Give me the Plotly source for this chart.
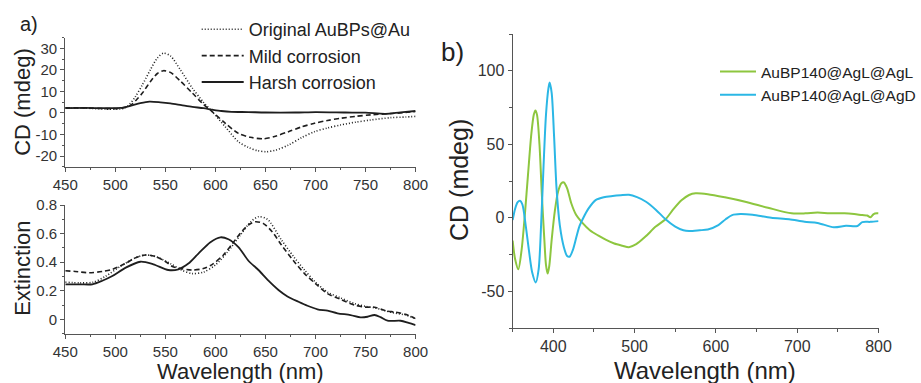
import plotly.graph_objects as go

# ---------------- data: panel a (top) CD ----------------
cd_orig_wl = [450, 470, 490, 505, 512, 520, 527, 535, 542, 548, 555, 565, 577, 588, 597, 610, 623, 633, 642, 651, 660, 673, 686, 699, 712, 725, 740, 755, 775, 790, 800]
cd_orig = [2.3, 2.2, 1.8, 1.8, 3, 7.5, 13, 20, 25.5, 27.7, 26.5, 20, 11.5, 5, 0.5, -6.5, -13.4, -16, -17.5, -18, -17.3, -14.9, -11.5, -8.7, -7, -5.6, -4.3, -3.3, -2.2, -1.9, -1.6]

cd_mild_wl = [450, 470, 490, 505, 515, 521, 527, 535, 542, 548, 555, 565, 577, 588, 597, 610, 623, 635, 648, 660, 673, 686, 699, 712, 725, 740, 755, 775, 790, 800]
cd_mild = [2.4, 2.3, 2.0, 2.2, 3.5, 6, 9.2, 14.5, 18.3, 19.6, 18.8, 14.8, 9.2, 4, 0.5, -4.8, -9.5, -11.3, -12, -10.8, -8.7, -6.5, -4.8, -3.5, -2.5, -1.6, -0.9, -0.3, 0.2, 0.7]

cd_harsh_wl = [450, 470, 490, 505, 515, 525, 534, 545, 555, 566, 577, 588, 597, 606, 616, 633, 650, 680, 700, 730, 750, 770, 785, 800]
cd_harsh = [2.2, 2.3, 2.2, 2.3, 3.3, 4.5, 5.2, 4.9, 4.4, 3.6, 2.8, 2.2, 1.5, 0.9, 0.5, 0.4, 0.2, 0.2, 0.4, 0.2, 0.1, -0.4, 0.3, 0.9]

# ---------------- data: panel a (bottom) extinction ----------------
ext_orig_wl = [450, 465, 478, 490, 505, 520, 530, 540, 555, 566, 577, 588, 600, 612, 625, 635, 643, 652, 666, 678, 689, 700, 712, 725, 739, 750, 759, 770, 778, 790, 800]
ext_orig = [0.26, 0.255, 0.26, 0.3, 0.37, 0.43, 0.45, 0.44, 0.39, 0.345, 0.32, 0.33, 0.38, 0.47, 0.59, 0.68, 0.718, 0.7, 0.555, 0.44, 0.345, 0.26, 0.19, 0.15, 0.11, 0.09, 0.08, 0.06, 0.045, 0.03, 0.005]

ext_mild_wl = [450, 460, 474, 487, 497, 510, 520, 530, 540, 550, 557, 566, 577, 588, 597, 608, 617, 627, 634, 640, 648, 657, 666, 678, 689, 700, 712, 725, 739, 750, 759, 770, 780, 790, 800]
ext_mild = [0.34, 0.335, 0.326, 0.335, 0.35, 0.39, 0.43, 0.45, 0.44, 0.405, 0.37, 0.355, 0.345, 0.355, 0.385, 0.45, 0.53, 0.62, 0.665, 0.683, 0.67, 0.61, 0.52, 0.41, 0.32, 0.25, 0.18, 0.14, 0.1, 0.085, 0.085, 0.06, 0.05, 0.035, 0.005]

ext_harsh_wl = [450, 465, 477, 487, 497, 510, 525, 538, 553, 563, 573, 583, 595, 605, 613, 623, 633, 643, 653, 663, 672, 683, 692, 702, 712, 722, 735, 745, 752, 759, 765, 772, 785, 793, 800]
ext_harsh = [0.245, 0.245, 0.245, 0.27, 0.303, 0.36, 0.403, 0.385, 0.345, 0.35, 0.39, 0.46, 0.54, 0.574, 0.56, 0.505, 0.41, 0.345, 0.27, 0.205, 0.16, 0.123, 0.095, 0.07, 0.06, 0.042, 0.03, 0.014, 0.018, 0.03, 0.015, -0.01, -0.01, -0.025, -0.04]

# ---------------- data: panel b CD ----------------
agl_wl = [350, 353, 357, 361, 365, 369, 373, 376, 378, 380, 383, 386, 389, 391, 393, 395, 398, 402, 406, 410, 413, 417, 422, 428, 435, 445, 455, 465, 475, 485, 493, 502, 513, 526, 538, 548, 558, 567, 575, 590, 611, 636, 664, 693, 710, 725, 740, 758, 770, 780, 786, 790, 794, 798, 800]
agl = [-15.5, -28, -35, -22, 2, 30, 57, 70, 73, 70, 50, 15, -15, -32, -38, -33, -15, 5, 18, 23.5, 24, 20, 10, 2, -3, -8.5, -12, -15, -17.5, -19, -20, -18, -13, -6, -1, 6, 12, 15.5, 16.6, 16, 13.9, 10.9, 6.8, 3, 3, 3.6, 3, 3, 2.5, 1.8, 1.5, 0.3, 2.5, 3, 3]

agd_wl = [350, 353, 356, 359, 362, 366, 370, 374, 378.5, 382, 385, 388, 391, 394, 395.5, 398, 401, 404, 408, 413, 417, 420, 424, 428, 432, 437, 443, 452, 462, 473, 483, 493, 503, 514, 526, 538, 550, 560, 567, 580, 590, 603, 612, 620, 630, 645, 668, 690, 709, 725, 745, 760, 774, 780, 790, 800]
agd = [-1.5, 6, 10.5, 11.6, 9, -5, -22, -37, -44, -35, -5, 35, 70, 88, 92, 85, 55, 20, -5, -20, -26, -26.5, -22, -14, -6, 0, 6, 12, 14, 14.8, 15.3, 15.6, 14, 10.9, 5.5, -1, -6, -8.5, -9, -8.5, -8, -5, -1, 1.8, 2.5, 2, 0, -1, -2.7, -3.5, -6.5, -5.5, -5.6, -3, -2.8, -2.3]

names_a = ["Original AuBPs@Au", "Mild corrosion", "Harsh corrosion"]
names_b = ["AuBP140@AgL@AgL", "AuBP140@AgL@AgD"]

ticks_cd_a = [-20, -10, 0, 10, 20, 30]
ticks_ext = [0, 0.2, 0.4, 0.6, 0.8]
ticks_cd_b = [-50, 0, 50, 100]
ticks_wl_a = [450, 500, 550, 600, 650, 700, 750, 800]
ticks_wl_b = [400, 500, 600, 700, 800]

W, H = 921, 383
def X(px): return px / W
def Y(py): return 1 - py / H

FONT = "Liberation Sans, Arial, sans-serif"
BLACK = "#1e1e1e"
GREEN = "#8dc63f"
BLUE = "#2bb7e5"
AXC = "#555555"

def lab(v):
    return ("%g" % v)

fig = go.Figure()

dashes = ["1px,2px", "5px,3px", "solid"]
cd_sets = [(cd_orig_wl, cd_orig), (cd_mild_wl, cd_mild), (cd_harsh_wl, cd_harsh)]
ext_sets = [(ext_orig_wl, ext_orig), (ext_mild_wl, ext_mild), (ext_harsh_wl, ext_harsh)]
for i, (wl, v) in enumerate(cd_sets):
    fig.add_trace(go.Scatter(x=wl, y=v, mode="lines", name=names_a[i],
                             line=dict(color=BLACK, width=1.6 if i < 2 else 1.8, dash=dashes[i], shape="spline", smoothing=0.8),
                             xaxis="x", yaxis="y", legend="legend", showlegend=True))
for i, (wl, v) in enumerate(ext_sets):
    fig.add_trace(go.Scatter(x=wl, y=v, mode="lines", name=names_a[i],
                             line=dict(color=BLACK, width=1.6 if i < 2 else 1.8, dash=dashes[i], shape="spline", smoothing=0.8),
                             xaxis="x2", yaxis="y2", showlegend=False))
for wl, v, nm, c in [(agl_wl, agl, names_b[0], GREEN), (agd_wl, agd, names_b[1], BLUE)]:
    fig.add_trace(go.Scatter(x=wl, y=v, mode="lines", name=nm,
                             line=dict(color=c, width=2, shape="spline", smoothing=0.8),
                             xaxis="x3", yaxis="y3", legend="legend2", showlegend=True))

def ax(tv, **kw):
    d = dict(showline=True, linecolor=AXC, linewidth=1.2, ticks="outside", ticklen=4, tickwidth=1.2,
             tickcolor=AXC, showgrid=False, zeroline=False, mirror=False, automargin=False,
             tickmode="array", tickvals=tv, ticktext=[lab(v) for v in tv],
             tickfont=dict(family=FONT, size=15, color="#333333"))
    d.update(kw)
    return d

TF16 = dict(family=FONT, size=16, color="#333333")
fig.update_layout(
    template="none",
    width=W, height=H, margin=dict(l=0, r=0, t=0, b=0, pad=0), autosize=False,
    paper_bgcolor="white", plot_bgcolor="white",
    xaxis=ax(ticks_wl_a, domain=[X(65.7), X(418.3)], range=[450, 800],
             minor=dict(dtick=25, tick0=450, ticks="outside", ticklen=2.5, tickcolor=AXC), anchor="y"),
    yaxis=ax(ticks_cd_a, domain=[Y(166.8), Y(37.5)], range=[-25, 35],
             minor=dict(dtick=5, tick0=0, ticks="outside", ticklen=2.5, tickcolor=AXC), anchor="x"),
    xaxis2=ax(ticks_wl_a, domain=[X(65.7), X(418.3)], range=[450, 800],
              minor=dict(dtick=25, tick0=450, ticks="outside", ticklen=2.5, tickcolor=AXC), anchor="y2"),
    yaxis2=ax(ticks_ext, domain=[Y(333.6), Y(205)], range=[-0.1, 0.8],
              minor=dict(dtick=0.1, tick0=0, ticks="outside", ticklen=2.5, tickcolor=AXC), anchor="x2"),
    xaxis3=ax(ticks_wl_b, domain=[X(516), X(884.3)], range=[350, 800],
              minor=dict(dtick=50, tick0=350, ticks="outside", ticklen=2.5, tickcolor=AXC), anchor="y3",
              tickfont=TF16),
    yaxis3=ax(ticks_cd_b, domain=[Y(328), Y(34)], range=[-75, 125],
              minor=dict(dtick=25, tick0=0, ticks="outside", ticklen=2.5, tickcolor=AXC), anchor="x3",
              tickfont=TF16),
    legend=dict(x=X(198), y=Y(11), xanchor="left", yanchor="top", bgcolor="rgba(0,0,0,0)",
                font=dict(family=FONT, size=18, color="#222222"), itemwidth=42, tracegroupgap=0),
    legend2=dict(x=X(720), y=Y(55), xanchor="left", yanchor="top", bgcolor="rgba(0,0,0,0)",
                 font=dict(family=FONT, size=15.5, color="#222222"), itemwidth=36, tracegroupgap=0),
)

ann = [
    dict(text="a)", x=X(29), y=Y(24), font=dict(size=20)),
    dict(text="b)", x=X(455), y=Y(52), font=dict(size=26)),
    dict(text="CD (mdeg)", x=X(22), y=Y(102), textangle=-90, font=dict(size=22)),
    dict(text="Extinction", x=X(22), y=Y(268), textangle=-90, font=dict(size=22)),
    dict(text="Wavelength (nm)", x=X(242), y=Y(371), font=dict(size=22)),
    dict(text="CD (mdeg)", x=X(462), y=Y(180), textangle=-90, font=dict(size=25)),
    dict(text="Wavelength (nm)", x=X(710), y=Y(370), font=dict(size=24)),
]
for a in ann:
    a.update(xref="paper", yref="paper", showarrow=False, xanchor="center", yanchor="middle")
    a["font"].update(family=FONT, color="#222222")
    fig.add_annotation(**a)

fig.write_html("out.html")
